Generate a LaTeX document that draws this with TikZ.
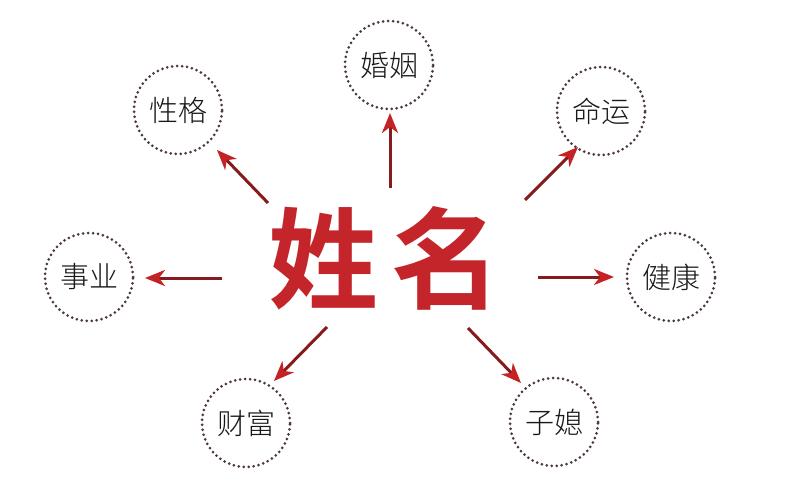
\documentclass[tikz,border=0pt]{standalone}
\usepackage{fontspec}
\newfontfamily\cjk{Noto Sans CJK SC}[BoldFont={Noto Sans CJK SC Bold}]
\newfontfamily\cjkl{Noto Sans CJK SC Light}
\usetikzlibrary{arrows.meta}
\definecolor{dotc}{HTML}{4E3A3A}
\definecolor{shaft}{HTML}{861A1C}
\definecolor{headc}{HTML}{C42224}
\definecolor{titlec}{HTML}{C4252A}
\begin{document}
\begin{tikzpicture}[x=1pt,y=-1pt,
  topic/.style={circle,minimum size=88pt,inner sep=0pt,draw=dotc,line width=3pt,
    dash pattern=on 0pt off 5pt,line cap=round,
    font=\cjkl\fontsize{29}{29}\selectfont,text=black!90},
  ray/.style={draw=shaft,line width=3pt,
    -{Stealth[length=20pt,width=16pt,inset=6pt,color=headc]}}]
\useasboundingbox (0,0) rectangle (791,494);
\fill[white] (0,0) rectangle (791,494);
\node[font=\cjk\bfseries\fontsize{110}{110}\selectfont,text=titlec,inner sep=0pt] (title) at (385,258) {姓\hspace{14pt}名};
\node[topic] (xingge) at (178,110) {性格};
\node[topic] (hunyin) at (389,65) {婚姻};
\node[topic] (mingyun) at (601,111) {命运};
\node[topic] (shiye) at (89,277) {事业};
\node[topic] (jiankang) at (671,277) {健康};
\node[topic] (caifu) at (246,423) {财富};
\node[topic] (zixi) at (554,422) {子媳};
\coordinate (t1) at (268,203);
\coordinate (h1) at (217,150);
\coordinate (t2) at (390,188);
\coordinate (h2) at (390,113);
\coordinate (t3) at (525,200);
\coordinate (h3) at (578,147);
\coordinate (t4) at (222,278);
\coordinate (h4) at (145,278);
\coordinate (t5) at (538,277);
\coordinate (h5) at (614,277);
\coordinate (t6) at (327,327);
\coordinate (h6) at (274,381);
\coordinate (t7) at (468,328);
\coordinate (h7) at (521,383);
\draw[ray] (t1) -- (h1);
\draw[ray] (t2) -- (h2);
\draw[ray] (t3) -- (h3);
\draw[ray] (t4) -- (h4);
\draw[ray] (t5) -- (h5);
\draw[ray] (t6) -- (h6);
\draw[ray] (t7) -- (h7);
\end{tikzpicture}
\end{document}
